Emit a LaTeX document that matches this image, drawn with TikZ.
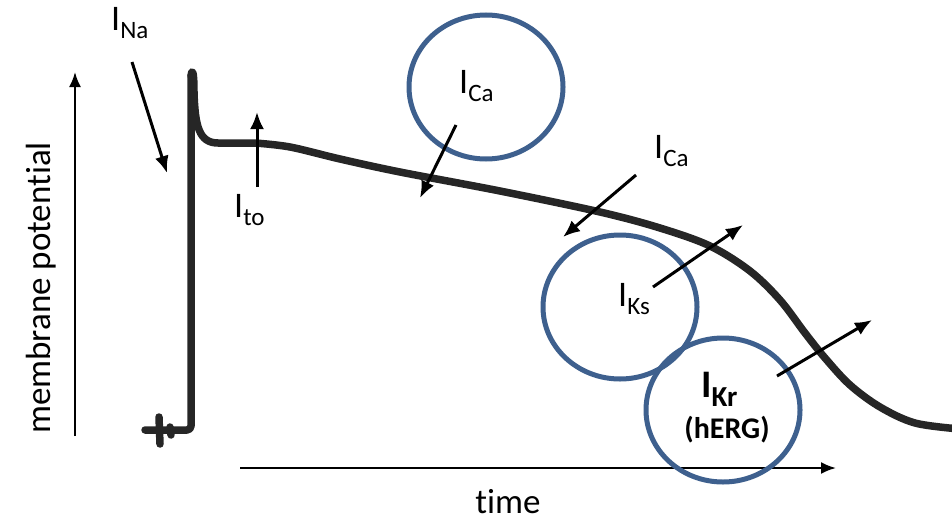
\documentclass[tikz,border=0pt]{standalone}
\usepackage{fontspec}
\setmainfont[Ligatures=NoCommon]{Carlito}
\usetikzlibrary{arrows.meta,shapes.geometric}
\definecolor{ringblue}{RGB}{62,96,142}
\definecolor{tracecol}{RGB}{38,38,38}
\newcommand{\mysub}[1]{\raisebox{-8pt}{\fontsize{25}{25}\selectfont #1}}
\newcommand{\mysubb}[1]{\raisebox{-9pt}{\fontsize{29}{29}\selectfont\bfseries #1}}
\begin{document}
\begin{tikzpicture}[x=1pt,y=-1pt,
  ax/.style={line width=2.2pt,-{Latex[length=15pt,width=12pt]}},
  cur/.style={line width=3pt,-{Latex[length=17pt,width=14pt]}},
  ring/.style={draw=ringblue,line width=5pt,ellipse,minimum width=154pt,minimum height=144pt,inner sep=0pt},
  lbl/.style={anchor=base west,inner sep=0pt,font=\fontsize{36}{40}\selectfont},
  trace/.style={draw=tracecol,line width=7.5pt,line cap=round,line join=round},
]
\useasboundingbox (0,0) rectangle (952,522);

% axes
\coordinate (y0) at (75,436);
\coordinate (y1) at (75,72);
\coordinate (x0) at (240,468);
\coordinate (x1) at (836,468);
\draw[ax] (y0) -- (y1);
\draw[ax] (x0) -- (x1);
\node[rotate=90,anchor=base,inner sep=0pt,font=\fontsize{35}{40}\selectfont] (ylab) at (50,288) {membrane potential};
\node[anchor=base,inner sep=0pt,font=\fontsize{35}{40}\selectfont] (xlab) at (508,513) {time};

% action potential trace
\draw[trace,rounded corners=4pt] (145,430) -- (191,430) -- (191,76);
\draw[trace] (159,417) -- (160,444);
\draw[trace] (170,427) -- (171,435);
\draw[trace] (191,76) .. controls (192,68) and (194,70) .. (194,92)
  .. controls (195,126) and (199,143) .. (218,143)
  -- plot[smooth,tension=0.55] coordinates {(255,143) (290,147) (340,159) (400,172) (500,191) (600,212) (660,228) (710,246) (750,271) (780,300) (805,333) (825,358) (850,385) (880,407) (915,423) (960,429)};

% channel rings
\node[ring] (rCa) at (486,87) {};
\node[ring] (rKs) at (620,307) {};
\node[ring] (rKr) at (723,410) {};

% current arrows
\coordinate (na1) at (132,62);  \coordinate (na2) at (167,173);
\coordinate (to1) at (257,187); \coordinate (to2) at (257,112);
\coordinate (ca1) at (456,125); \coordinate (ca2) at (420,198);
\coordinate (cb1) at (636,175); \coordinate (cb2) at (563,237);
\coordinate (ks1) at (653,287); \coordinate (ks2) at (743,225);
\coordinate (kr1) at (777,376); \coordinate (kr2) at (872,320);
\draw[cur] (na1) -- (na2);
\draw[cur] (to1) -- (to2);
\draw[cur] (ca1) -- (ca2);
\draw[cur] (cb1) -- (cb2);
\draw[cur] (ks1) -- (ks2);
\draw[cur] (kr1) -- (kr2);

% labels
\node[lbl] (lNa) at (111,30) {I\mysub{Na}};
\node[lbl] (lto) at (234,217) {I\mysub{to}};
\node[lbl] (lCa) at (459,93) {I\mysub{Ca}};
\node[lbl] (lCb) at (654,158) {I\mysub{Ca}};
\node[lbl] (lKs) at (618,306) {I\mysub{Ks}};
\node[lbl,font=\fontsize{39}{42}\selectfont\bfseries] (lKr) at (701,397) {I\mysubb{Kr}};
\node[anchor=base,inner sep=0pt,font=\fontsize{30}{32}\selectfont\bfseries] (lhERG) at (727,438) {(hERG)};
\end{tikzpicture}
\end{document}
